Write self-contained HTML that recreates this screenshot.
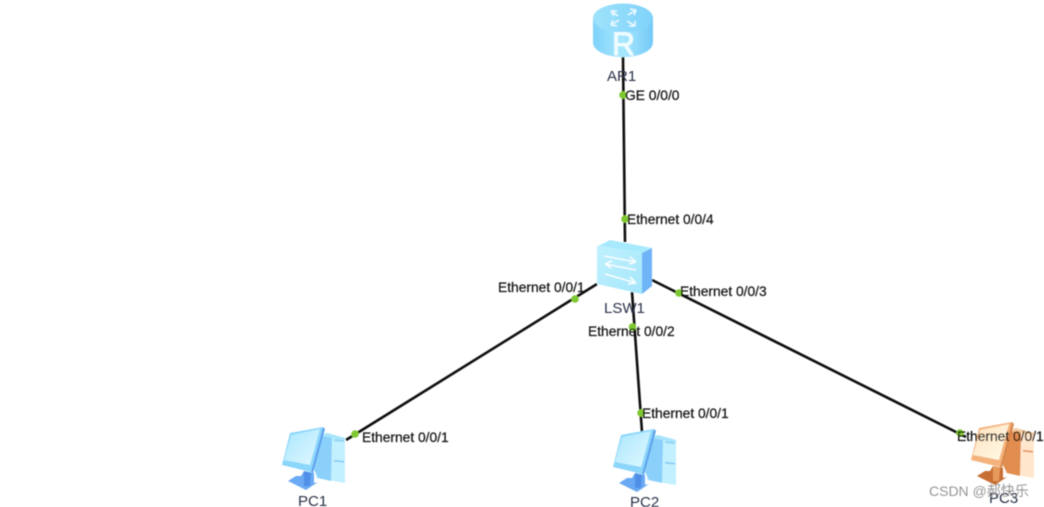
<!DOCTYPE html>
<html><head><meta charset="utf-8"><style>
html,body{margin:0;padding:0;background:#fff;width:1044px;height:507px;overflow:hidden}
svg{display:block}
text{font-family:"Liberation Sans","Noto Sans CJK SC",sans-serif;font-size:13.8px;fill:#111;stroke:#111;stroke-width:.2}
.n{font-size:15px;fill:#2a3148;stroke:none}
</style></head><body>
<svg width="1044" height="507" viewBox="0 0 1044 507" xmlns="http://www.w3.org/2000/svg">
<defs>
<filter id="b" x="-5%" y="-5%" width="110%" height="110%"><feGaussianBlur stdDeviation="0.45"/></filter>
<linearGradient id="rt" x1="0" y1="0" x2="1" y2="0"><stop offset="0" stop-color="#9fe3fc"/><stop offset="1" stop-color="#7fd2fa"/></linearGradient>
<linearGradient id="rs" x1="0" y1="0" x2="1" y2="0"><stop offset="0" stop-color="#7fd2fa"/><stop offset=".5" stop-color="#a8e8fd"/><stop offset="1" stop-color="#74c9f8"/></linearGradient>
<linearGradient id="sw" x1="0" y1="0" x2="1" y2="1"><stop offset="0" stop-color="#c0f1fe"/><stop offset="1" stop-color="#a5e6fb"/></linearGradient>
<linearGradient id="scr" x1="0" y1="0" x2="1" y2="1"><stop offset="0" stop-color="#a8e6fd"/><stop offset="1" stop-color="#e2f9ff"/></linearGradient>
<linearGradient id="scro" x1="0" y1="0" x2="1" y2="1"><stop offset="0" stop-color="#ffe2bf"/><stop offset="1" stop-color="#fffbe9"/></linearGradient>
<g id="pc">
 <polygon points="318,436 345,438 345,483 316,478" fill="#c2f0fe"/>
 <polygon points="320,435 327,433 345,438 345,440 326,437" fill="#a6e4fc"/>
 <polygon points="314,470 321,436 332,438 331,481 318,478" fill="#8bd0fa"/>
 <polygon points="334,439 344,440 344,442 334,441" fill="#8fd4f6"/>
 <polygon points="334,460 344,461 344,462.5 334,461.5" fill="#7fc8f4"/>
 <polygon points="288,481 296,476 301,476 304,471 314,473 314,483 318,482 306,490" fill="#6aa9f3"/>
 <polygon points="304,471 311,473 310,486 304,486" fill="#4f8fe8"/>
 <polygon points="290,433 323,427 311,472 282,465" fill="#8bd6fb"/>
 <polygon points="323,427 325,429 313,473 311,472" fill="#5fa3ee"/>
 <polygon points="291,435 320,429 310,465 284,460" fill="url(#scr)"/>
</g>
<g id="pco">
 <polygon points="318,436 345,438 345,483 316,478" fill="#ffe6cc"/>
 <polygon points="320,435 327,433 345,438 345,440 326,437" fill="#f6c99c"/>
 <polygon points="314,470 321,436 332,438 331,481 318,478" fill="#e08d50"/>
 <polygon points="334,455 344,456 344,457.5 334,456.5" fill="#e8864a"/>
 <polygon points="288,481 296,476 301,476 304,471 314,473 314,483 318,482 306,490" fill="#c76e34"/>
 <polygon points="304,471 311,473 310,486 304,486" fill="#e89a5c"/>
 <polygon points="290,433 323,427 311,472 282,465" fill="#f4b27b"/>
 <polygon points="323,427 325,429 313,473 311,472" fill="#d98548"/>
 <polygon points="291,435 320,429 310,465 284,460" fill="url(#scro)"/>
</g>
</defs>
<g filter="url(#b)">
<g stroke="#111" stroke-width="2.6" fill="none">
 <line x1="623" y1="57" x2="625" y2="242"/>
 <line x1="346" y1="440" x2="597" y2="284"/>
 <line x1="632" y1="292" x2="642" y2="432"/>
 <line x1="652" y1="280" x2="966" y2="437"/>
</g>

<!-- Router -->
<path d="M593 18 V42 C593 51 606 57 623 57 C640 57 653 51 653 42 V18 Z" fill="url(#rs)"/>
<ellipse cx="623" cy="18" rx="30" ry="14.5" fill="url(#rt)"/>
<g stroke="#eafaff" stroke-width="1.6" fill="none">
 <path d="M611 11 L618 16 M611 11 L614 16 M611 11 L617 11"/>
 <path d="M636 10 L628 15 M636 10 L630 9 M636 10 L634 15"/>
 <path d="M611 25 L619 20 M611 25 L617 26 M611 25 L613 20"/>
 <path d="M635 26 L627 21 M635 26 L635 21 M635 26 L629 26"/>
</g>
<text x="612" y="55" style="font-size:32px;fill:#eefbff;stroke:#eefbff;stroke-width:.9" textLength="23" lengthAdjust="spacingAndGlyphs">R</text>

<!-- Switch -->
<polygon points="598,246 610,240 652,248 642,253" fill="#a8eafd"/>
<polygon points="642,253 652,248 652,286 642,294" fill="#6fb4f8"/>
<polygon points="597,246 642,253 642,294 597,284" fill="url(#sw)"/>
<g stroke="#f8fdff" stroke-width="1.6" fill="none">
 <path d="M604 256 L636 262 M636 262 L630 257 M636 262 L629 264"/>
 <path d="M605 264 L636 270 M605 264 L612 261 M605 264 L611 268"/>
 <path d="M605 274 L636 283 M636 283 L630 277 M636 283 L628 284"/>
</g>

<!-- PCs -->
<use href="#pc"/>
<use href="#pc" x="331" y="2"/>
<use href="#pco" x="689" y="-5"/>

<!-- Port dots -->
<g fill="#7fc832">
 <circle cx="623" cy="95" r="3.8"/>
 <circle cx="625" cy="219" r="3.8"/>
 <circle cx="575" cy="299" r="3.8"/>
 <circle cx="355" cy="434" r="3.8"/>
 <circle cx="632.5" cy="327" r="3.8"/>
 <circle cx="641" cy="413" r="3.8"/>
 <circle cx="679" cy="293" r="3.8"/>
 <circle cx="960" cy="433" r="3.8"/>
</g>

<!-- Labels -->
<text class="n" x="607" y="81">AR1</text>
<text class="n" x="604" y="313">LSW1</text>
<text class="n" x="298" y="506">PC1</text>
<text class="n" x="630" y="507">PC2</text>
<text x="625" y="100">GE 0/0/0</text>
<text x="627" y="224">Ethernet 0/0/4</text>
<text x="498" y="292">Ethernet 0/0/1</text>
<text x="680" y="296">Ethernet 0/0/3</text>
<text x="588" y="336">Ethernet 0/0/2</text>
<text x="362" y="442">Ethernet 0/0/1</text>
<text x="642" y="418">Ethernet 0/0/1</text>
<text x="957" y="441">Ethernet 0/0/1</text>
<text class="n" x="989" y="503">PC3</text>
<text x="929" y="496" style="font-size:14px;fill:#8a8a8a;stroke:none" opacity=".9">CSDN @郝快乐</text>
</g>
</svg>
</body></html>
